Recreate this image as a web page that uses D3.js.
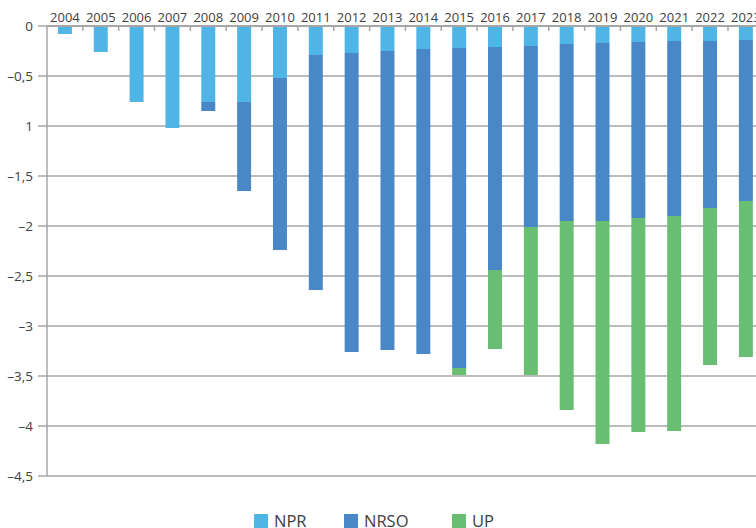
<!DOCTYPE html>
<html>
<head>
<meta charset="utf-8">
<script src="https://cdn.jsdelivr.net/npm/d3@7/dist/d3.min.js"></script>
<style>
  html, body { margin: 0; padding: 0; background: #fff; }
  svg { display: block; font-family: "Open Sans", "Noto Sans", sans-serif; }
</style>
</head>
<body>
<svg id="chart" width="756" height="528"></svg>
<script>
// Years shown along the top axis
const years = ["2004","2005","2006","2007","2008","2009","2010","2011","2012","2013",
               "2014","2015","2016","2017","2018","2019","2020","2021","2022","2023"];

// Stacked (negative) contributions per year
const npr  = [-0.08,-0.26,-0.76,-1.02,-0.76,-0.76,-0.52,-0.29,-0.27,-0.25,
              -0.23,-0.22,-0.21,-0.20,-0.18,-0.17,-0.16,-0.15,-0.15,-0.14];
const nrso = [0,0,0,0,-0.09,-0.89,-1.72,-2.35,-2.99,-2.99,
              -3.05,-3.20,-2.23,-1.81,-1.77,-1.78,-1.76,-1.75,-1.67,-1.61];
const up   = [0,0,0,0,0,0,0,0,0,0,
              0,-0.07,-0.79,-1.48,-1.89,-2.23,-2.14,-2.15,-1.57,-1.56];

const seriesNames = ["NPR","NRSO","UP"];
const seriesColors = ["#4fb5e7","#4a87c6","#69be74"];

// Value-axis ticks and their printed labels
const yTicks = [0,-0.5,-1,-1.5,-2,-2.5,-3,-3.5,-4,-4.5];
const yTickLabels = ["0","\u20130,5","1","\u20131,5","\u20132","\u20132,5","\u20133","\u20133,5","\u20134","\u20134,5"];

const svg = d3.select("#chart");
const plotLeft = 47, plotTop = 26, step = 35.84;

const x = d3.scaleBand()
  .domain(years)
  .range([plotLeft, plotLeft + step * years.length])
  .paddingInner(0.61)
  .paddingOuter(0.305);

const y = d3.scaleLinear().domain([0, -4.5]).range([plotTop, plotTop + 450]);

const gridColor = "#a6a6a6";
const textColor = "#404040";

// Horizontal gridlines
svg.append("g")
  .selectAll("line")
  .data(yTicks)
  .join("line")
  .attr("x1", plotLeft - 9)
  .attr("x2", 756)
  .attr("y1", d => y(d))
  .attr("y2", d => y(d))
  .attr("stroke", gridColor)
  .attr("stroke-width", 1.5);

// Build stacked segments
const rows = years.map((yr, i) => ({ year: yr, NPR: -npr[i], NRSO: -nrso[i], UP: -up[i] }));
const stack = d3.stack().keys(seriesNames)(rows);

svg.append("g")
  .selectAll("g")
  .data(stack)
  .join("g")
  .attr("fill", (d, i) => seriesColors[i])
  .selectAll("rect")
  .data(d => d.filter(s => s[1] - s[0] > 0))
  .join("rect")
  .attr("x", d => x(d.data.year))
  .attr("width", x.bandwidth())
  .attr("y", d => y(-d[0]))
  .attr("height", d => y(-d[1]) - y(-d[0]));

// Value axis line
svg.append("line")
  .attr("x1", plotLeft).attr("x2", plotLeft)
  .attr("y1", y(0)).attr("y2", y(-4.5))
  .attr("stroke", gridColor).attr("stroke-width", 1.5);

// Category axis line along zero
svg.append("line")
  .attr("x1", plotLeft).attr("x2", 756)
  .attr("y1", y(0)).attr("y2", y(0))
  .attr("stroke", gridColor).attr("stroke-width", 2);

// Category tick marks between years
svg.append("g")
  .selectAll("line")
  .data(years.slice(1))
  .join("line")
  .attr("x1", d => x(d) - x.step() * x.paddingInner() / 2)
  .attr("x2", d => x(d) - x.step() * x.paddingInner() / 2)
  .attr("y1", y(0))
  .attr("y2", y(0) + 5)
  .attr("stroke", gridColor)
  .attr("stroke-width", 1.5);

// Year labels above the zero line
svg.append("g")
  .selectAll("text")
  .data(years)
  .join("text")
  .attr("x", d => x(d) + x.bandwidth() / 2)
  .attr("y", 22)
  .attr("text-anchor", "middle")
  .attr("font-size", 13)
  .attr("fill", textColor)
  .text(d => d);

// Value labels
svg.append("g")
  .selectAll("text")
  .data(yTicks)
  .join("text")
  .attr("x", 33)
  .attr("y", d => y(d))
  .attr("dy", "0.35em")
  .attr("text-anchor", "end")
  .attr("font-size", 13.5)
  .attr("fill", textColor)
  .text((d, i) => yTickLabels[i]);

// Legend
const legendX = [254, 344, 452];
const legend = svg.append("g")
  .selectAll("g")
  .data(seriesNames)
  .join("g")
  .attr("transform", (d, i) => `translate(${legendX[i]},514)`);

legend.append("rect")
  .attr("width", 14).attr("height", 14)
  .attr("fill", (d, i) => seriesColors[i]);

legend.append("text")
  .attr("x", 20)
  .attr("y", 13)
  .attr("font-size", 16.5)
  .attr("fill", textColor)
  .text(d => d);
</script>
</body>
</html>
